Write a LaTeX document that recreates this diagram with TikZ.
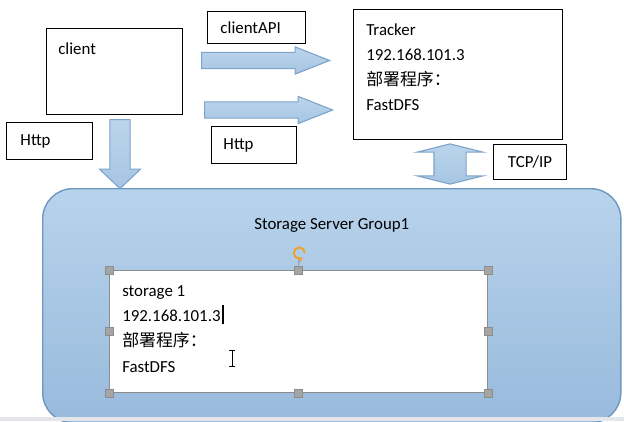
\documentclass[tikz,border=0pt]{standalone}
\usepackage{fontspec}
\setmainfont{Carlito}
\newfontfamily\cjk{Noto Sans CJK SC}
\usetikzlibrary{positioning,arrows.meta,shapes.arrows}
\definecolor{ArrowFill}{HTML}{A6C5E2}
\definecolor{ArrowTop}{HTML}{BCD5EC}
\definecolor{ArrowEdge}{HTML}{7EA4CA}
\definecolor{GroupTop}{HTML}{B8D3EC}
\definecolor{GroupBottom}{HTML}{98BADC}
\definecolor{GroupEdge}{HTML}{6E97C1}
\definecolor{HandleGray}{HTML}{A5A5A5}
\definecolor{FrameGray}{HTML}{8C8C8C}
\definecolor{RotOrange}{HTML}{F0A030}
\definecolor{BarGray}{HTML}{E4E6E9}

\begin{document}
\begin{tikzpicture}[x=0.025cm, y=-0.025cm,
    font=\fontsize{12pt}{18pt}\selectfont,
    box/.style={draw, fill=white, line width=0.7pt, anchor=north west},
    tag/.style={box, align=left, inner ysep=0pt},
    txt/.style={inner sep=0pt, align=left, anchor=north west},
    blockarrow/.style={draw=ArrowEdge, line width=0.8pt, top color=ArrowTop,
      bottom color=ArrowFill},
    flow/.style={blockarrow, single arrow, anchor=tail, inner sep=0.1875cm, minimum height=3.2cm,
      minimum width=0.65cm, single arrow head extend=0.1375cm, single arrow tip angle=43},
    handle/.style={draw=FrameGray, fill=HandleGray, minimum size=0.2cm, inner sep=0pt}
  ]
  \useasboundingbox (0,0) rectangle (624,421);

  % storage group
  \node[draw=GroupEdge, line width=1pt, rounded corners=0.75cm, top color=GroupTop,
    bottom color=GroupBottom, minimum width=14.45cm, minimum height=5.85cm,
    anchor=north west] (group) at (42,188) {};
  \node[below=0.75cm of group.north, inner sep=0pt] (grouptitle) {Storage Server Group1};

  \node[draw=FrameGray, fill=white, line width=0.6pt, minimum width=9.45cm,
    minimum height=3.05cm, anchor=north west] (storage) at (109,270) {};
  \node[txt, below right=0.375cm and 0.325cm of storage.north west] (storagetxt)
    {storage 1\\192.168.101.3\\{\cjk 部署程序：}\\FastDFS};
  \foreach \a in {north west,north,north east,east,south east,south,south west,west}
    \node[handle] (handle \a) at (storage.\a) {};
  \node[circle, inner sep=0pt, minimum size=0.28cm] (rot) at (299,253) {};
  \draw[FrameGray, line width=0.6pt] (handle north) -- (rot.south);
  \draw[RotOrange, line width=1.4pt, -{Triangle[length=2.5pt,width=4.5pt]}]
    (rot.east) arc[start angle=0, end angle=300, radius=0.14cm];
  \draw[line width=1.1pt] (223,305) -- (223,324);
  \draw[line width=0.6pt] (232,350) -- (232,366) (229,350) -- (235,350) (229,366) -- (235,366);

  % client and tracker
  \node[box, minimum width=3.4cm, minimum height=2.15cm] (client) at (46,28) {};
  \node[txt, below right=0.35cm and 0.3cm of client.north west] (clienttxt) {client};

  \node[box, minimum width=5.225cm, minimum height=3.25cm] (tracker) at (353,9) {};
  \node[txt, below right=0.35cm and 0.325cm of tracker.north west] (trackertxt)
    {Tracker\\192.168.101.3\\{\cjk 部署程序：}\\FastDFS};

  % labels
  \node[tag, inner xsep=0.325cm, text width=1.8cm, minimum height=0.8cm] (apitag) at (207,11) {clientAPI};
  \node[tag, inner xsep=0.3cm, text width=1.525cm, minimum height=0.925cm] (httpright) at (211,126) {Http};
  \node[tag, inner xsep=0.35cm, text width=1.45cm, minimum height=0.925cm] (httpleft) at (6,122) {Http};
  \node[tag, align=center, inner xsep=0pt, text width=1.825cm, minimum height=0.875cm] (tcptag) at (493,144) {TCP/IP};

  % block arrows
  \path (client.east |- 0,60.5) ++(18,0) node[flow] (apiarrow) {};
  \path (client.east |- 0,110) ++(21,0) node[flow] (httparrow) {};
  \path (client.south -| 120,0) ++(0,4)
    node[blockarrow, single arrow, shape border rotate=270, anchor=tail, inner sep=0.2375cm,
      minimum height=1.725cm, minimum width=1cm, single arrow head extend=0.2625cm,
      single arrow tip angle=93] (downarrow) {};
  \path (tracker.south -| 450,0) -- (group.north -| 450,0)
    node[blockarrow, double arrow, shape border rotate=90, midway, inner sep=0.3875cm,
      minimum height=0.875cm, minimum width=1.625cm, double arrow head extend=0.425cm,
      double arrow tip angle=152] (tcparrow) {};

  \fill[BarGray] (0,417) rectangle (624,421);
\end{tikzpicture}
\end{document}
